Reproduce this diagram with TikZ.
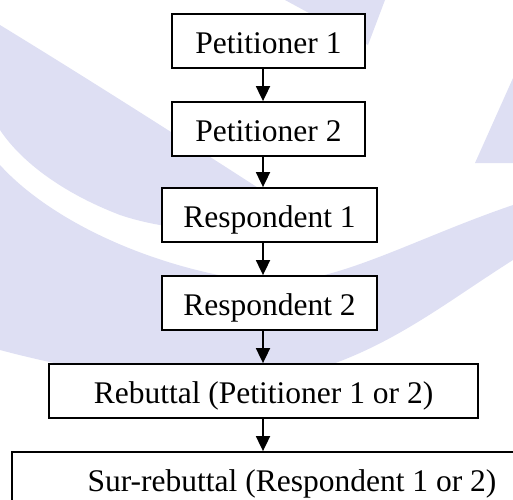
\documentclass[tikz,border=0pt]{standalone}
\usepackage{fontspec}
\setmainfont{Liberation Serif}
\usetikzlibrary{arrows.meta}
\definecolor{wmcol}{RGB}{222,223,243}
\tikzset{
  wm/.style={fill=wmcol, draw=none},
  stagebox/.style={draw=black, fill=white, line width=1.8pt, rectangle, inner sep=0pt,
    minimum height=54pt, text height=24.85pt, text depth=0pt,
    font=\fontsize{31.5}{36}\selectfont},
  flow/.style={draw=black, line width=1.8pt, -{Triangle[length=15pt,width=14pt]}}
}
\begin{document}
\begin{tikzpicture}[x=1pt, y=-1pt]
\useasboundingbox (0,0) rectangle (513,499);
\clip (0,0) rectangle (513,499);
% watermark
\fill[wm] (0,25) .. controls (90,80) and (200,150) .. (300,215)
  .. controls (250,238) and (170,232) .. (120,215)
  .. controls (60,192) and (20,160) .. (0,130) -- cycle;
\fill[wm] (0,165) .. controls (50,220) and (150,268) .. (260,282)
  .. controls (330,288) and (410,240) .. (513,205) -- (513,260)
  .. controls (450,300) and (400,340) .. (330,365)
  .. controls (250,395) and (120,382) .. (0,350) -- cycle;
\fill[wm] (475,163) -- (513,78) -- (513,163) -- cycle;
\fill[wm] (285,0) -- (385,0) -- (368,45) -- cycle;
% flow
\coordinate (ax) at (263,0);
\node[stagebox, minimum width=193pt] (b1) at (268.5,41) {Petitioner 1};
\node[stagebox, minimum width=193pt] (b2) at (268.5,129) {Petitioner 2};
\node[stagebox, minimum width=215pt] (b3) at (269.5,215) {Respondent 1};
\node[stagebox, minimum width=215pt] (b4) at (269.5,303) {Respondent 2};
\node[stagebox, minimum width=429pt] (b5) at (263.5,391) {Rebuttal (Petitioner 1 or 2)};
\node[stagebox, minimum width=560pt] (b6) at (292,479) {Sur-rebuttal (Respondent 1 or 2)};
\draw[flow] (b1.south -| ax) -- (b2.north -| ax);
\draw[flow] (b2.south -| ax) -- (b3.north -| ax);
\draw[flow] (b3.south -| ax) -- (b4.north -| ax);
\draw[flow] (b4.south -| ax) -- (b5.north -| ax);
\draw[flow] (b5.south -| ax) -- (b6.north -| ax);
\end{tikzpicture}
\end{document}
